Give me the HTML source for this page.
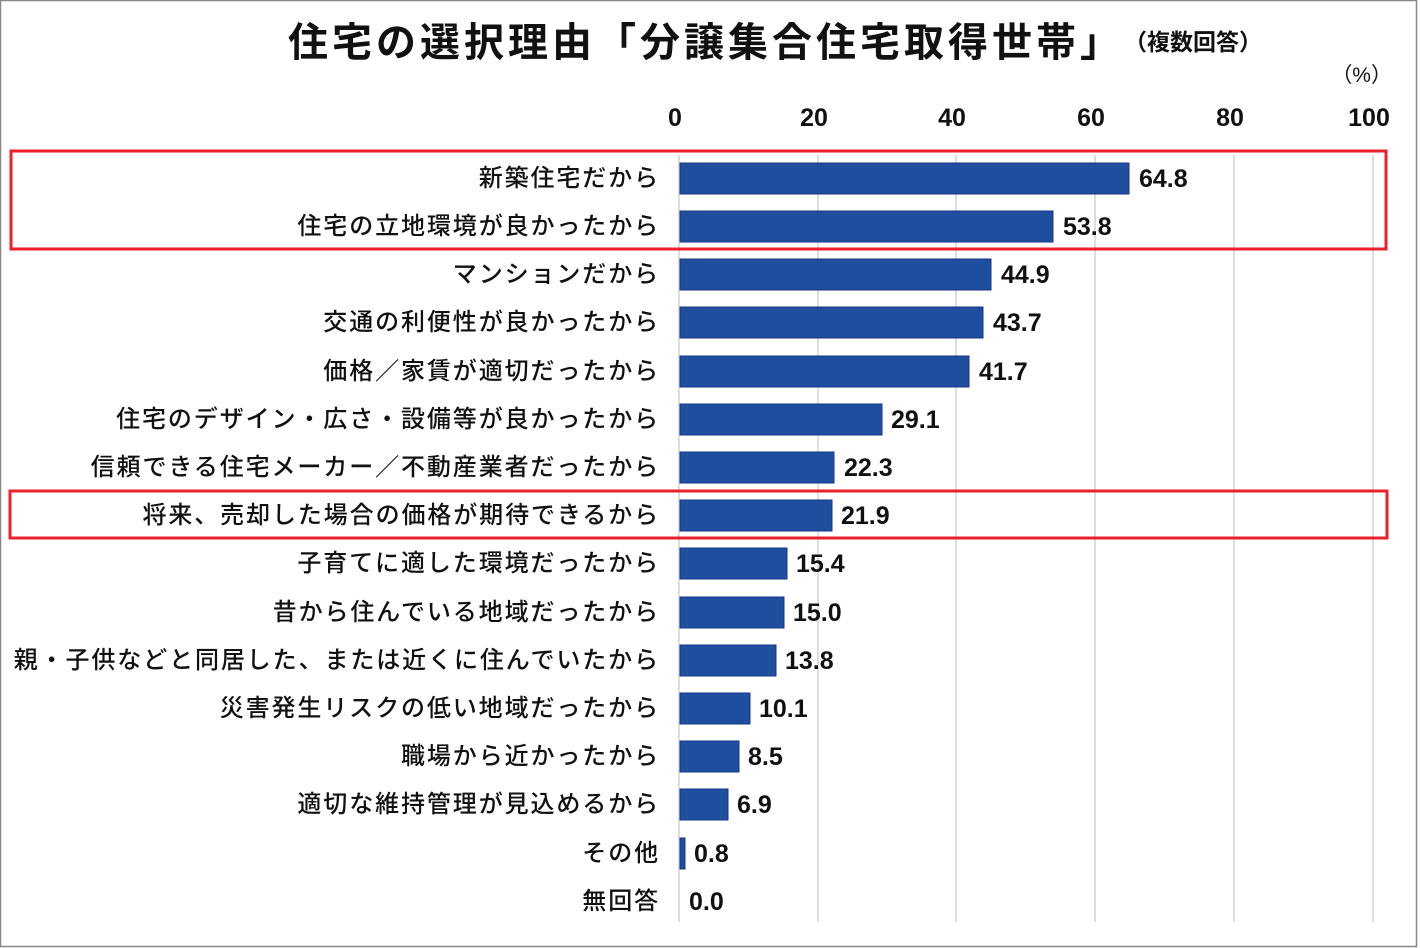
<!DOCTYPE html>
<html><head><meta charset="utf-8"><style>
html,body{margin:0;padding:0;background:#fff;}
svg{display:block;font-family:"Liberation Sans","Noto Sans CJK JP",sans-serif;}
</style></head><body>
<svg width="1420" height="948" viewBox="0 0 1420 948" xmlns="http://www.w3.org/2000/svg">
<rect x="0.5" y="0.5" width="1416" height="946" fill="#fff" stroke="#888" stroke-width="1.5"/>
<text x="288" y="56" font-size="40" font-weight="bold" fill="#111" letter-spacing="4">住宅の選択理由「分譲集合住宅取得世帯」</text>
<text x="1124" y="50" font-size="23" font-weight="bold" fill="#111">（複数回答）</text>
<text x="1392" y="82" font-size="21" fill="#111" text-anchor="end">（%）</text>
<g font-size="25" fill="#111" text-anchor="middle" font-weight="bold">
<text x="675" y="126">0</text><text x="814" y="126">20</text><text x="952" y="126">40</text><text x="1091" y="126">60</text><text x="1230" y="126">80</text><text x="1369" y="126">100</text>
</g>
<g stroke="#d4d4d4" stroke-width="1.5">
<line x1="679" y1="155" x2="679" y2="922"/><line x1="818" y1="155" x2="818" y2="922"/><line x1="956" y1="155" x2="956" y2="922"/><line x1="1095" y1="155" x2="1095" y2="922"/><line x1="1234" y1="155" x2="1234" y2="922"/><line x1="1373" y1="155" x2="1373" y2="922"/>
</g>
<g fill="#1f4e9e" stroke="#17378a" stroke-width="1">
<rect x="680" y="163" width="449" height="31"/>
<rect x="680" y="211" width="373" height="31"/>
<rect x="680" y="259" width="311" height="31"/>
<rect x="680" y="307" width="303" height="31"/>
<rect x="680" y="356" width="289" height="31"/>
<rect x="680" y="404" width="202" height="31"/>
<rect x="680" y="452" width="154" height="31"/>
<rect x="680" y="500" width="152" height="31"/>
<rect x="680" y="548" width="107" height="31"/>
<rect x="680" y="597" width="104" height="31"/>
<rect x="680" y="645" width="96" height="31"/>
<rect x="680" y="693" width="70" height="31"/>
<rect x="680" y="741" width="59" height="31"/>
<rect x="680" y="789" width="48" height="31"/>
<rect x="680" y="838" width="5" height="31"/>
</g>
<g font-size="25" fill="#111" font-weight="bold">
<text x="1139" y="187">64.8</text>
<text x="1063" y="235">53.8</text>
<text x="1001" y="283">44.9</text>
<text x="993" y="331">43.7</text>
<text x="979" y="380">41.7</text>
<text x="891" y="428">29.1</text>
<text x="844" y="476">22.3</text>
<text x="841" y="524">21.9</text>
<text x="796" y="572">15.4</text>
<text x="793" y="621">15.0</text>
<text x="785" y="669">13.8</text>
<text x="759" y="717">10.1</text>
<text x="748" y="765">8.5</text>
<text x="737" y="813">6.9</text>
<text x="694" y="862">0.8</text>
<text x="689" y="910">0.0</text>
</g>
<g font-size="24" fill="#111" text-anchor="end" font-weight="500" letter-spacing="1.9">
<text x="660" y="186">新築住宅だから</text>
<text x="660" y="234">住宅の立地環境が良かったから</text>
<text x="660" y="282">マンションだから</text>
<text x="660" y="330">交通の利便性が良かったから</text>
<text x="660" y="379">価格／家賃が適切だったから</text>
<text x="660" y="427">住宅のデザイン・広さ・設備等が良かったから</text>
<text x="660" y="475">信頼できる住宅メーカー／不動産業者だったから</text>
<text x="660" y="523">将来、売却した場合の価格が期待できるから</text>
<text x="660" y="571">子育てに適した環境だったから</text>
<text x="660" y="620">昔から住んでいる地域だったから</text>
<text x="660" y="668">親・子供などと同居した、または近くに住んでいたから</text>
<text x="660" y="716">災害発生リスクの低い地域だったから</text>
<text x="660" y="764">職場から近かったから</text>
<text x="660" y="812">適切な維持管理が見込めるから</text>
<text x="660" y="861">その他</text>
<text x="660" y="909">無回答</text>
</g>
<g fill="none" stroke="#e8212b" stroke-width="3">
<rect x="11" y="151" width="1375" height="98"/>
<rect x="10" y="491" width="1377" height="47"/>
</g>
</svg>
</body></html>
